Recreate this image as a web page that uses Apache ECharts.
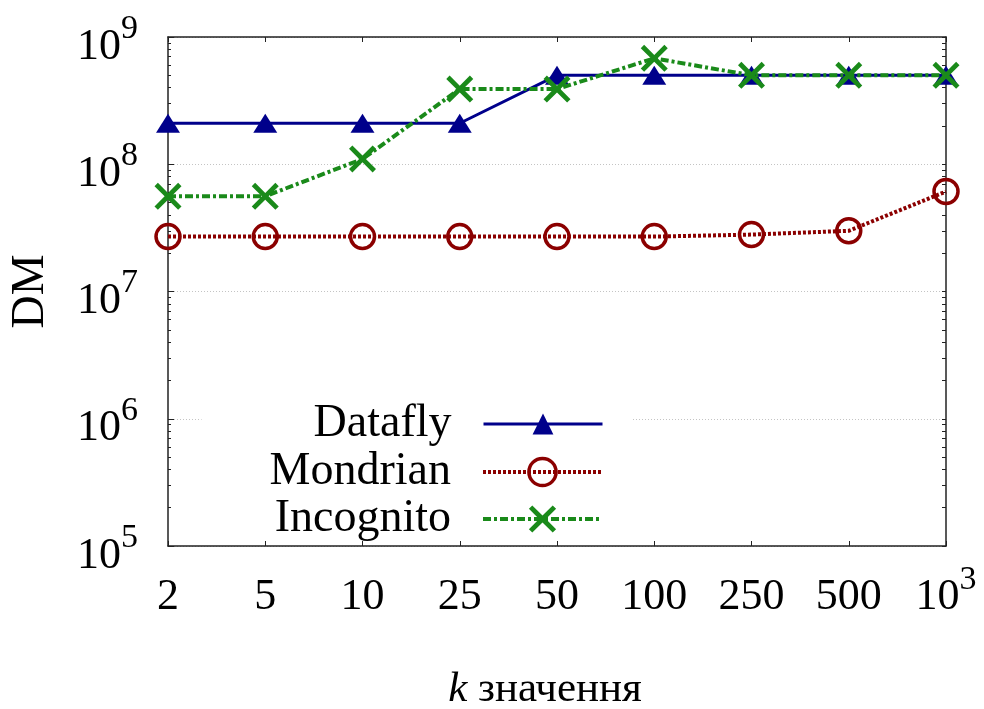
<!DOCTYPE html>
<html><head><meta charset="utf-8">
<script src="https://cdn.jsdelivr.net/npm/echarts@6/dist/echarts.min.js"></script>
<style>html,body{margin:0;padding:0;background:#fff}#c{width:984px;height:709px}</style>
</head><body><div id="c"></div>
<script>
// ---- data ----
const kValues = ['2', '5', '10', '25', '50', '100', '250', '500', '1000'];
const datafly = [2.1e8, 2.1e8, 2.1e8, 2.1e8, 5.0e8, 5.0e8, 5.0e8, 5.0e8, 5.0e8];
const mondrian = [2.7e7, 2.7e7, 2.7e7, 2.7e7, 2.7e7, 2.7e7, 2.8e7, 3.0e7, 6.1e7];
const incognito = [5.6e7, 5.6e7, 1.1e8, 3.9e8, 3.9e8, 6.8e8, 5.0e8, 5.0e8, 5.0e8];
const yMin = 1e5, yMax = 1e9;
const yMajorExponents = [5, 6, 7, 8, 9];
const yMinorMultipliers = [2, 3, 4, 5, 6, 7, 8, 9];
const seriesNames = ['Datafly', 'Mondrian', 'Incognito'];

// ---- styles ----
const FONT = 'Liberation Serif';
const BLUE = '#00008b', RED = '#8b0000', GREEN = '#1a8a1a';
const AXIS = '#222';
const crossPath = 'path://M3,0L12,9L21,0L24,3L15,12L24,21L21,24L12,15L3,24L0,21L9,12L0,3Z';

const minorLogTicks = [];
yMajorExponents.forEach(e => {
  if (e < 9) yMinorMultipliers.forEach(m => minorLogTicks.push(e + Math.log10(m)));
});
const allLogTicks = yMajorExponents.concat(minorLogTicks);

const richY = {
  b: { fontFamily: FONT, fontSize: 44, lineHeight: 46, color: '#000' },
  s: { fontFamily: FONT, fontSize: 34, lineHeight: 30, padding: [0, 0, 36, 0], color: '#000' }
};
const richX = {
  b: { fontFamily: FONT, fontSize: 44, lineHeight: 64, color: '#000' },
  s: { fontFamily: FONT, fontSize: 34, lineHeight: 30, padding: [0, 0, 34, 0], color: '#000' }
};

function supLabel(v) {
  const n = Number(v);
  const e = Math.round(Math.log10(n));
  if (Math.abs(Math.pow(10, e) - n) < 1e-6 && n >= 1000) return '{b|10}{s|' + e + '}';
  return '{b|' + v + '}';
}

const chart = echarts.init(document.getElementById('c'), null, { renderer: 'canvas' });

function legendCfg(name, top, extra) {
  return Object.assign({
    data: [name],
    orient: 'horizontal',
    align: 'right',
    right: 380,
    top: top,
    padding: 0,
    itemWidth: 119,
    itemHeight: 34,
    selectedMode: false,
    formatter: n => n + '{sp|}',
    textStyle: {
      fontFamily: FONT, fontSize: 46, lineHeight: 46, color: '#000',
      rich: { sp: { width: 27, lineHeight: 46 } }
    }
  }, extra);
}

chart.setOption({
  animation: false,
  backgroundColor: '#fff',
  grid: { left: 168, right: 38, top: 37, bottom: 163, containLabel: false, outerBoundsMode: 'none' },
  legend: [
    legendCfg('Datafly', 424 - 23 - 14, {
      right: 352, padding: [14, 28, 10, 112], backgroundColor: '#fff',
      itemHeight: 26,
      lineStyle: { color: BLUE, width: 3, type: 'solid' },
      itemStyle: { color: BLUE, borderWidth: 0 }
    }),
    legendCfg('Mondrian', 472 - 23, {
      lineStyle: { color: RED, width: 4, type: [3, 2] },
      itemStyle: { color: 'rgba(0,0,0,0)', borderColor: RED, borderWidth: 3.5 }
    }),
    legendCfg('Incognito', 519 - 23, {
      lineStyle: { color: GREEN, width: 4, type: [8, 3, 3, 3] },
      itemStyle: { color: GREEN, borderWidth: 0 }
    })
  ],
  xAxis: [
    {
      type: 'category', data: kValues, boundaryGap: false, position: 'bottom',
      axisLine: { show: true, lineStyle: { color: AXIS, width: 1.5 } },
      axisTick: { show: true, inside: true, length: 5, lineStyle: { color: AXIS } },
      axisLabel: { margin: 19, formatter: supLabel, rich: richX },
      splitLine: { show: false },
      name: '{i|k} значення', nameLocation: 'middle', nameGap: 122, nameMoveOverlap: false,
      nameTextStyle: {
        fontFamily: FONT, fontSize: 43, color: '#000', padding: [0, 24, 0, 0],
        rich: { i: { fontFamily: FONT, fontSize: 43, fontStyle: 'italic', color: '#000' } }
      }
    },
    {
      type: 'category', data: kValues, boundaryGap: false, position: 'top',
      axisLine: { show: true, lineStyle: { color: AXIS, width: 1.5 } },
      axisTick: { show: true, inside: true, length: 5, lineStyle: { color: AXIS } },
      axisLabel: { show: false }, splitLine: { show: false }
    }
  ],
  yAxis: [
    {
      type: 'log', logBase: 10, min: yMin, max: yMax, position: 'left',
      axisLine: { show: true, lineStyle: { color: AXIS, width: 1.5 } },
      axisTick: { show: true, inside: true, length: 6, lineStyle: { color: AXIS } },
      axisLabel: { margin: 30, padding: [20, 0, 0, 0], formatter: supLabel, rich: richY },
      splitLine: { show: true, lineStyle: { color: '#c4c4c4', width: 1, type: [1, 2] } },
      name: 'DM', nameLocation: 'middle', nameGap: 114, nameRotate: 90, nameMoveOverlap: false,
      nameTextStyle: { fontFamily: FONT, fontSize: 46, color: '#000' }
    },
    {
      type: 'value', min: 5, max: 9, position: 'left',
      axisLine: { show: false },
      axisTick: { show: true, inside: true, length: 3, customValues: minorLogTicks, lineStyle: { color: AXIS } },
      axisLabel: { show: false }, splitLine: { show: false }
    },
    {
      type: 'value', min: 5, max: 9, position: 'right',
      axisLine: { show: true, lineStyle: { color: AXIS, width: 1.5 } },
      axisTick: { show: true, inside: true, length: 4, customValues: allLogTicks, lineStyle: { color: AXIS } },
      axisLabel: { show: false }, splitLine: { show: false }
    }
  ],
  series: [
    {
      name: seriesNames[0], type: 'line', data: datafly, xAxisIndex: 0, yAxisIndex: 0,
      symbol: 'triangle', symbolSize: [24, 19],
      lineStyle: { color: BLUE, width: 3, type: 'solid' },
      itemStyle: { color: BLUE }, z: 3
    },
    {
      name: seriesNames[1], type: 'line', data: mondrian, xAxisIndex: 0, yAxisIndex: 0,
      symbol: 'circle', symbolSize: 24,
      lineStyle: { color: RED, width: 4, type: [3, 2] },
      itemStyle: { color: 'rgba(0,0,0,0)', borderColor: RED, borderWidth: 3.5 }, z: 4
    },
    {
      name: seriesNames[2], type: 'line', data: incognito, xAxisIndex: 0, yAxisIndex: 0,
      symbol: crossPath, symbolSize: 27,
      lineStyle: { color: GREEN, width: 4, type: [8, 3, 3, 3] },
      itemStyle: { color: GREEN }, z: 5
    }
  ]
});
</script></body></html>
